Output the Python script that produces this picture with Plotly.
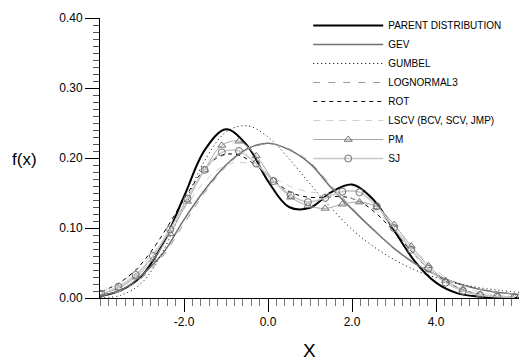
import plotly.graph_objects as go

# ---- data ----
x_half = [-4.0, -3.5, -3.0, -2.5, -2.0, -1.5, -1.0, -0.5, 0.0, 0.5, 1.0, 1.5,
          2.0, 2.5, 3.0, 3.5, 4.0, 4.5, 5.0, 5.5, 6.0]

parent = [0.003, 0.011, 0.032, 0.078, 0.145, 0.212, 0.241, 0.218, 0.167, 0.130,
          0.129, 0.151, 0.162, 0.141, 0.097, 0.052, 0.022, 0.007, 0.002, 0.0005, 0.0001]
gev = [0.004, 0.011, 0.033, 0.064, 0.112, 0.155, 0.190, 0.213, 0.221, 0.212,
       0.192, 0.158, 0.127, 0.098, 0.071, 0.049, 0.033, 0.021, 0.013, 0.008, 0.005]
gumbel = [0.0004, 0.004, 0.022, 0.067, 0.133, 0.197, 0.237, 0.246, 0.230, 0.199,
          0.163, 0.129, 0.098, 0.074, 0.055, 0.040, 0.029, 0.021, 0.015, 0.011, 0.008]
lognormal3 = [0.003, 0.010, 0.029, 0.060, 0.106, 0.151, 0.188, 0.212, 0.220, 0.213,
              0.194, 0.161, 0.129, 0.099, 0.072, 0.050, 0.033, 0.021, 0.013, 0.008, 0.005]

x_kde = [-3.97, -3.56, -3.15, -2.74, -2.33, -1.92, -1.51, -1.10, -0.69, -0.28,
         0.13, 0.54, 0.95, 1.36, 1.77, 2.18, 2.59, 3.00, 3.41, 3.82, 4.23, 4.64,
         5.05, 5.46, 5.87]
rot = [0.009, 0.021, 0.040, 0.070, 0.108, 0.149, 0.184, 0.204, 0.204, 0.189,
       0.168, 0.151, 0.144, 0.144, 0.145, 0.138, 0.120, 0.095, 0.067, 0.042,
       0.024, 0.012, 0.005, 0.002, 0.001]
lscv = [0.010, 0.020, 0.038, 0.064, 0.097, 0.134, 0.166, 0.187, 0.194, 0.188,
        0.172, 0.159, 0.152, 0.149, 0.146, 0.139, 0.124, 0.100, 0.074, 0.049,
        0.029, 0.016, 0.008, 0.004, 0.002]
pm = [0.006, 0.014, 0.030, 0.055, 0.092, 0.138, 0.183, 0.218, 0.224, 0.203,
      0.168, 0.144, 0.132, 0.128, 0.134, 0.137, 0.130, 0.105, 0.074, 0.046,
      0.025, 0.012, 0.005, 0.002, 0.001]
sj = [0.006, 0.016, 0.033, 0.060, 0.098, 0.142, 0.183, 0.208, 0.210, 0.192,
      0.167, 0.147, 0.137, 0.143, 0.152, 0.151, 0.131, 0.100, 0.069, 0.042,
      0.022, 0.010, 0.004, 0.002, 0.001]

x_ticks = [-2.0, 0.0, 2.0, 4.0]
x_ticktext = ["-2.0", "0.0", "2.0", "4.0"]

FONT = "Arial, Liberation Sans, sans-serif"

fig = go.Figure()

def add(x, y, name, color, width, dash="solid", marker=None, mcolor=None):
    kw = {}
    mode = "lines"
    if marker:
        mode = "lines+markers"
        kw["marker"] = dict(symbol=marker, size=7, color=mcolor,
                            line=dict(color=mcolor, width=1))
    fig.add_trace(go.Scatter(x=x, y=y, name=name, mode=mode,
                             line=dict(color=color, width=width, dash=dash,
                                       shape="spline", smoothing=1.0),
                             cliponaxis=True, **kw))

add(x_half, parent, "PARENT DISTRIBUTION", "black", 2.0)
add(x_half, gev, "GEV", "#707070", 1.5)
add(x_half, gumbel, "GUMBEL", "black", 1.0, dash="1px,3px")
add(x_half, lognormal3, "LOGNORMAL3", "#9a9a9a", 1.0, dash="7px,8px")
add(x_kde, rot, "ROT", "black", 1.0, dash="4px,4px")
add(x_kde, lscv, "LSCV (BCV, SCV, JMP)", "#cfcfcf", 1.0, dash="7px,6px")
add(x_kde, pm, "PM", "#a8a8a8", 1.0, marker="triangle-up-open", mcolor="#707070")
add(x_kde, sj, "SJ", "#c8c8c8", 1.6, marker="circle-open", mcolor="#707070")

fig.update_layout(
    width=519, height=360,
    margin=dict(l=100, r=0, t=18, b=62),
    paper_bgcolor="white", plot_bgcolor="white",
    font=dict(family=FONT, size=12, color="black"),
    showlegend=True,
    legend=dict(x=0.497, y=1.025, xanchor="left", yanchor="top",
                bgcolor="rgba(0,0,0,0)", font=dict(size=10, family=FONT),
                itemwidth=70, tracegroupgap=0),
    annotations=[
        dict(text="f(x)", xref="paper", yref="paper", x=-0.18, y=0.493,
             xanchor="center", yanchor="middle",
             showarrow=False, font=dict(size=17, family=FONT)),
        dict(text="X", xref="paper", yref="paper", x=0.501, y=-0.186,
             xanchor="center", yanchor="middle",
             showarrow=False, font=dict(size=19, family=FONT)),
    ],
)

fig.update_xaxes(range=[-4.0, 5.976], showgrid=False, zeroline=False,
                 showline=True, linecolor="black", linewidth=1,
                 ticks="outside", ticklen=13, tickcolor="black", tickwidth=1,
                 tickvals=x_ticks, ticktext=x_ticktext,
                 tickfont=dict(size=12, family=FONT),
                 minor=dict(dtick=0.2, tick0=0, ticks="outside", ticklen=7,
                            tickcolor="#777777", tickwidth=1))
fig.update_yaxes(range=[0, 0.40], showgrid=False, zeroline=False,
                 showline=True, linecolor="black", linewidth=1,
                 ticks="outside", ticklen=14, tickcolor="black", tickwidth=1,
                 dtick=0.1, tick0=0, tickformat=".2f",
                 tickfont=dict(size=12, family=FONT),
                 minor=dict(dtick=0.01, tick0=0, ticks="outside", ticklen=6,
                            tickcolor="#555555", tickwidth=1))

fig.write_html("out.html",
               config={"displayModeBar": False},
               post_script="document.body.style.margin='0';"
                           "document.body.style.overflow='hidden';")
